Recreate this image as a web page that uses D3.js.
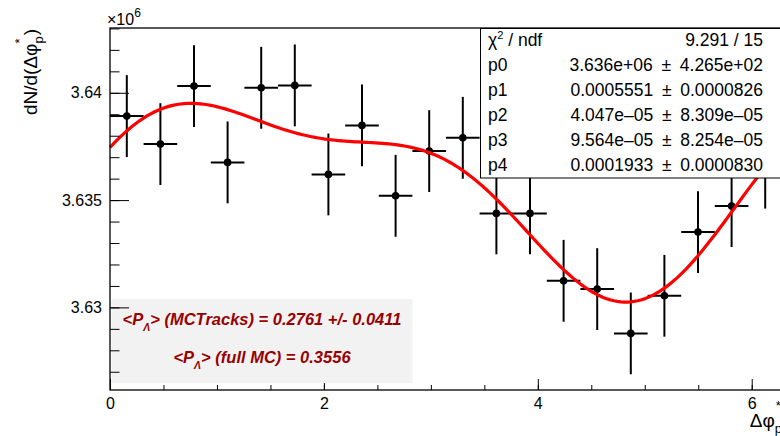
<!DOCTYPE html>
<html>
<head>
<meta charset="utf-8">
<script src="https://cdn.jsdelivr.net/npm/d3@7"></script>
<style>
body{margin:0;background:#fff;}
text{font-family:"Liberation Sans",Arial,Helvetica,sans-serif;}
</style>
</head>
<body>
<div id="chart"></div>
<script>
// histogram: 20 bins over [0, 2pi]
const nBins = 20;
const xRange = [0, 2 * Math.PI];
const counts = [3638914, 3637609, 3640312, 3636757, 3640233, 3640345, 3636197, 3638481, 3635200, 3637283,
                3637903, 3634380, 3634380, 3631239, 3630852, 3628788, 3630540, 3633509, 3634720, 3636510];
const errors = [1908, 1907, 1908, 1907, 1908, 1908, 1907, 1907, 1907, 1907,
                1907, 1906, 1906, 1906, 1906, 1905, 1906, 1906, 1906, 1907];

// fit parameters p0..p4
const fitPars = [3635750, 0.0005551, 4.047e-05, 9.564e-05, 0.0001933];

const yMajor = [3630000, 3635000, 3640000];
const yMajorLabels = ["3.63", "3.635", "3.64"];
const xMajor = [0, 2, 4, 6];
const xMajorLabels = ["0", "2", "4", "6"];

const PM = "\u2002\u00b1\u2002";
const statNames = ["p0", "p1", "p2", "p3", "p4"];
const statValues = ["3.636e+06" + PM + "4.265e+02", "0.0005551" + PM + "0.0000826", "4.047e\u201305" + PM + "8.309e\u201305",
                    "9.564e\u201305" + PM + "8.254e\u201305", "0.0001933" + PM + "0.0000830"];
const chi2Text = "9.291 / 15";

const noteLines = [
    {pre: "<P", sub: "\u039b", post: "> (MCTracks) = 0.2761 +/- 0.0411"},
    {pre: "<P", sub: "\u039b", post: "> (full MC) = 0.3556"}
];

document.addEventListener("DOMContentLoaded", setup)

function fitFunc(x){
    const p = fitPars;
    return p[0] * (1 + 2 * (p[1] * Math.sin(x) + p[2] * Math.cos(x) + p[3] * Math.sin(2 * x) + p[4] * Math.cos(2 * x)));
}

function setup(){
    const width = 780;
    const height = 436;
    const svg = d3.select("#chart").append("svg")
        .attr("width", width)
        .attr("height", height);

    const x = d3.scaleLinear().domain(xRange).range([110, 782]);
    const y = d3.scaleLinear().domain([3626150, 3643020]).range([390, 28]);
    const binW = (xRange[1] - xRange[0]) / nBins;

    // x axis ticks (inside), labels below
    const xAxis = svg.append("g").attr("transform", "translate(0,390)");
    xAxis.call(d3.axisBottom(x).tickValues(d3.range(0, 6.3, 0.5)).tickSize(-5).tickFormat(""));
    xAxis.append("g").call(d3.axisBottom(x).tickValues(xMajor).tickSize(-11).tickPadding(7.5)
        .tickFormat((d, i) => xMajorLabels[i]));
    xAxis.selectAll(".domain").remove();
    xAxis.selectAll("text").attr("font-size", 16).attr("fill", "#000")
        .style("font-family", "'Liberation Sans',Arial,sans-serif");

    // data points with error bars
    const pts = svg.append("g");
    counts.forEach((c, i) => {
        const cx = x(xRange[0] + (i + 0.5) * binW);
        pts.append("line")
            .attr("x1", x(xRange[0] + i * binW)).attr("x2", x(xRange[0] + (i + 1) * binW))
            .attr("y1", y(c)).attr("y2", y(c))
            .attr("stroke", "#000").attr("stroke-width", 2);
        pts.append("line")
            .attr("x1", cx).attr("x2", cx)
            .attr("y1", y(c - errors[i])).attr("y2", y(c + errors[i]))
            .attr("stroke", "#000").attr("stroke-width", 2);
        pts.append("circle").attr("cx", cx).attr("cy", y(c)).attr("r", 3.8).attr("fill", "#000");
    });

    // fit curve
    const xs = d3.range(0, 201).map(k => xRange[0] + k * (xRange[1] - xRange[0]) / 200);
    svg.append("path")
        .datum(xs)
        .attr("fill", "none")
        .attr("stroke", "#ff0000")
        .attr("stroke-width", 3.2)
        .attr("d", d3.line().x(d => x(d)).y(d => y(fitFunc(d))));

    // note box
    const note = svg.append("g");
    note.append("rect").attr("x", 111.5).attr("y", 299).attr("width", 301).attr("height", 84).attr("fill", "#f2f2f2");
    noteLines.forEach((l, i) => {
        const t = note.append("text")
            .attr("x", 262).attr("y", 325 + i * 38)
            .attr("text-anchor", "middle")
            .attr("font-size", 16.5).attr("font-weight", "bold").attr("font-style", "italic")
            .attr("fill", "#990000");
        t.append("tspan").text(l.pre);
        t.append("tspan").attr("font-size", 10.5).attr("dy", 6).text(l.sub);
        t.append("tspan").attr("dy", -6).text(l.post);
    });

    // y axis ticks (inside), labels left
    const yAxis = svg.append("g").attr("transform", "translate(110,0)");
    yAxis.call(d3.axisLeft(y).tickValues(d3.range(3627000, 3643001, 1000)).tickSize(-9.5).tickFormat(""));
    yAxis.append("g").call(d3.axisLeft(y).tickValues(yMajor).tickSize(-19).tickPadding(8)
        .tickFormat((d, i) => yMajorLabels[i]));
    yAxis.selectAll(".domain").remove();
    yAxis.selectAll("text").attr("font-size", 16).attr("fill", "#000")
        .style("font-family", "'Liberation Sans',Arial,sans-serif");

    // frame
    svg.append("rect").attr("x", 110).attr("y", 28).attr("width", 672).attr("height", 362)
        .attr("fill", "none").attr("stroke", "#000").attr("stroke-width", 1.3);

    // x10^6
    const mult = svg.append("text").attr("x", 107).attr("y", 25).attr("font-size", 16).text("\u00d710");
    mult.append("tspan").attr("font-size", 12).attr("dy", -8).text("6");

    // y title
    const yt = svg.append("g");
    const yMain = yt.append("text").attr("font-size", 19).text("dN/d(\u0394\u03c6");
    const yMainW = yMain.node().getComputedTextLength();
    const ySub = yt.append("text").attr("font-size", 13).attr("x", yMainW).attr("y", 6).text("p");
    const ySubW = ySub.node().getComputedTextLength();
    yt.append("text").attr("font-size", 13).attr("x", yMainW).attr("y", -13).text("*");
    const yClose = yt.append("text").attr("font-size", 19).attr("x", yMainW + ySubW + 1).text(")");
    const yTotal = yMainW + ySubW + 1 + yClose.node().getComputedTextLength();
    yt.attr("transform", "translate(37," + (29 + yTotal) + ") rotate(-90)");

    // x title
    const xt = svg.append("g");
    const xMain = xt.append("text").attr("font-size", 19).text("\u0394\u03c6");
    const xMainW = xMain.node().getComputedTextLength();
    const xSub = xt.append("text").attr("font-size", 13).attr("x", xMainW).attr("y", 6).text("p");
    xt.append("text").attr("font-size", 13).attr("x", xMainW + 1).attr("y", -17).text("*");
    const xTotal = xMainW + xSub.node().getComputedTextLength();
    xt.attr("transform", "translate(" + (782 - xTotal) + ",427)");

    // stats box
    const stats = svg.append("g");
    stats.append("rect").attr("x", 480.5).attr("y", 28.5).attr("width", 320).attr("height", 149.5)
        .attr("fill", "#fff").attr("stroke", "#000").attr("stroke-width", 1);
    const rowH = 25;
    const fs = 17.5;
    const chi = stats.append("text").attr("x", 488).attr("y", 28 + rowH / 2 + 5.5).attr("font-size", fs).text("\u03c7");
    chi.append("tspan").attr("font-size", 11).attr("dy", -7).text("2");
    chi.append("tspan").attr("dy", 7).text(" / ndf");
    stats.append("text").attr("x", 763).attr("y", 28 + rowH / 2 + 5.5).attr("font-size", fs)
        .attr("text-anchor", "end").text(chi2Text);
    statNames.forEach((n, i) => {
        const yy = 28 + rowH * (i + 1) + rowH / 2 + 5.5;
        stats.append("text").attr("x", 488).attr("y", yy).attr("font-size", fs).text(n);
        stats.append("text").attr("x", 763).attr("y", yy).attr("font-size", fs)
            .attr("text-anchor", "end").text(statValues[i]);
    });
}
</script>
</body>
</html>
